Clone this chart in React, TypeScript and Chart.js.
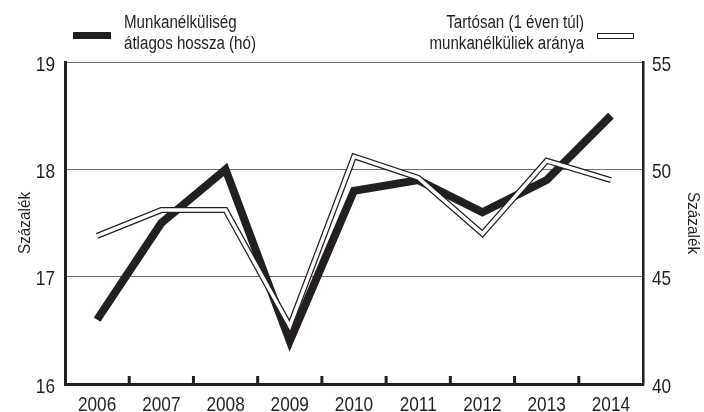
import React, { useEffect, useRef } from "react";
import { Chart, registerables } from "chart.js";

Chart.register(...registerables);

const years = ["2006", "2007", "2008", "2009", "2010", "2011", "2012", "2013", "2014"];
const avgDuration = [16.6, 17.5, 18.0, 16.4, 17.8, 17.9, 17.6, 17.9, 18.5];
const longTermShare = [46.9, 48.1, 48.1, 42.7, 50.6, 49.6, 47.0, 50.4, 49.5];
const leftTicks = [16, 17, 18, 19];
const rightTicks = [40, 45, 50, 55];

const legendLeft = ["Munkanélküliség", "átlagos hossza (hó)"];
const legendRight = ["Tartósan (1 éven túl)", "munkanélküliek aránya"];
const axisTitle = "Százalék";

const FONT = "'Liberation Sans', Arial, sans-serif";
const INK = "#231f20";
const NARROW = 0.82;

function drawText(ctx: any, text: string, x: number, y: number, align: CanvasTextAlign, size: number, sx: number, rot = 0) {
  ctx.save();
  ctx.translate(x, y);
  if (rot) ctx.rotate(rot);
  ctx.scale(sx, 1);
  ctx.font = `${size}px ${FONT}`;
  ctx.fillStyle = INK;
  ctx.textAlign = align;
  ctx.textBaseline = "alphabetic";
  ctx.fillText(text, 0, 0);
  ctx.restore();
}

const customDraw = {
  id: "customDraw",
  afterDraw(chart: any) {
    const ctx = chart.ctx;
    const x = chart.scales.x;
    const y = chart.scales.y;
    const y1 = chart.scales.y1;
    const area = chart.chartArea;
    const size = 21;
    const half = 0.716 * size / 2;
    ctx.save();
    ctx.strokeStyle = INK;
    ctx.lineWidth = 3;
    for (let i = 1; i < years.length; i++) {
      const px = (x.getPixelForValue(i - 1) + x.getPixelForValue(i)) / 2;
      ctx.beginPath();
      ctx.moveTo(px, area.bottom);
      ctx.lineTo(px, area.bottom - 8);
      ctx.stroke();
    }
    ctx.restore();
    leftTicks.forEach((v) => {
      drawText(ctx, String(v), area.left - 10, y.getPixelForValue(v) + half + 1, "right", size, NARROW);
    });
    rightTicks.forEach((v) => {
      drawText(ctx, String(v), area.right + 9, y1.getPixelForValue(v) + half + 1, "left", size, NARROW);
    });
    years.forEach((t, i) => {
      drawText(ctx, t, x.getPixelForValue(i), area.bottom + 27, "center", size, NARROW);
    });
    const midY = (area.top + area.bottom) / 2;
    drawText(ctx, axisTitle, 30, midY, "center", 17, 0.9, -Math.PI / 2);
    drawText(ctx, axisTitle, 688, midY, "center", 17, 0.9, Math.PI / 2);
  },
};

export default function App() {
  const ref = useRef<HTMLCanvasElement | null>(null);

  useEffect(() => {
    document.body.style.margin = "0";
    if (!ref.current) return;
    const chart = new Chart(ref.current, {
      type: "line",
      data: {
        labels: years,
        datasets: [
          {
            label: legendLeft.join(" "),
            data: avgDuration,
            yAxisID: "y",
            borderColor: INK,
            borderWidth: 8,
            borderJoinStyle: "miter",
            borderCapStyle: "butt",
            pointRadius: 0,
            tension: 0,
            order: 3,
          },
          {
            label: "outline",
            data: longTermShare,
            yAxisID: "y1",
            borderColor: INK,
            borderWidth: 6,
            borderJoinStyle: "miter",
            borderCapStyle: "butt",
            pointRadius: 0,
            tension: 0,
            order: 2,
          },
          {
            label: legendRight.join(" "),
            data: longTermShare,
            yAxisID: "y1",
            borderColor: "#ffffff",
            borderWidth: 3.5,
            borderJoinStyle: "miter",
            borderCapStyle: "butt",
            pointRadius: 0,
            tension: 0,
            order: 1,
          },
        ],
      },
      options: {
        animation: false,
        responsive: false,
        devicePixelRatio: 1,
        layout: { padding: { top: 62, left: 0, right: 0, bottom: 0 } },
        plugins: { legend: { display: false }, tooltip: { enabled: false } },
        scales: {
          x: {
            offset: true,
            grid: { display: false, offset: true },
            border: { display: true, color: INK, width: 3 },
            ticks: { display: false },
            afterFit: (s: any) => { s.height = 28; },
          },
          y: {
            position: "left",
            min: 16,
            max: 19,
            afterBuildTicks: (s: any) => { s.ticks = leftTicks.map((v) => ({ value: v })); },
            grid: { color: "#6d6e71", lineWidth: 1, drawTicks: false },
            border: { display: true, color: INK, width: 3 },
            ticks: { display: false },
            afterFit: (s: any) => { s.width = 65; },
          },
          y1: {
            position: "right",
            min: 40,
            max: 55,
            afterBuildTicks: (s: any) => { s.ticks = rightTicks.map((v) => ({ value: v })); },
            grid: { display: false, drawTicks: false },
            border: { display: true, color: INK, width: 2.5 },
            ticks: { display: false },
            afterFit: (s: any) => { s.width = 61; },
          },
        },
      },
      plugins: [customDraw],
    });
    return () => chart.destroy();
  }, []);

  const textStyle: React.CSSProperties = {
    position: "absolute",
    fontFamily: FONT,
    fontSize: 18,
    lineHeight: "21px",
    color: INK,
    whiteSpace: "nowrap",
  };

  return (
    <div style={{ position: "absolute", left: 0, top: 0, width: 704, height: 412, background: "#fff", overflow: "hidden" }}>
      <canvas ref={ref} width={704} height={412} style={{ position: "absolute", left: 0, top: 0 }} />
      <div style={{ position: "absolute", left: 73, top: 32, width: 38, height: 7, background: INK }} />
      <div style={{ ...textStyle, left: 124, top: 12, transform: "scaleX(0.84)", transformOrigin: "left top" }}>
        {legendLeft.map((t) => (
          <div key={t}>{t}</div>
        ))}
      </div>
      <div style={{ ...textStyle, right: 704 - 584, top: 12, textAlign: "right", transform: "scaleX(0.84)", transformOrigin: "right top" }}>
        {legendRight.map((t) => (
          <div key={t}>{t}</div>
        ))}
      </div>
      <div
        style={{
          position: "absolute",
          left: 597,
          top: 33,
          width: 35,
          height: 4,
          background: "#fff",
          border: `1.5px solid ${INK}`,
        }}
      />
    </div>
  );
}
